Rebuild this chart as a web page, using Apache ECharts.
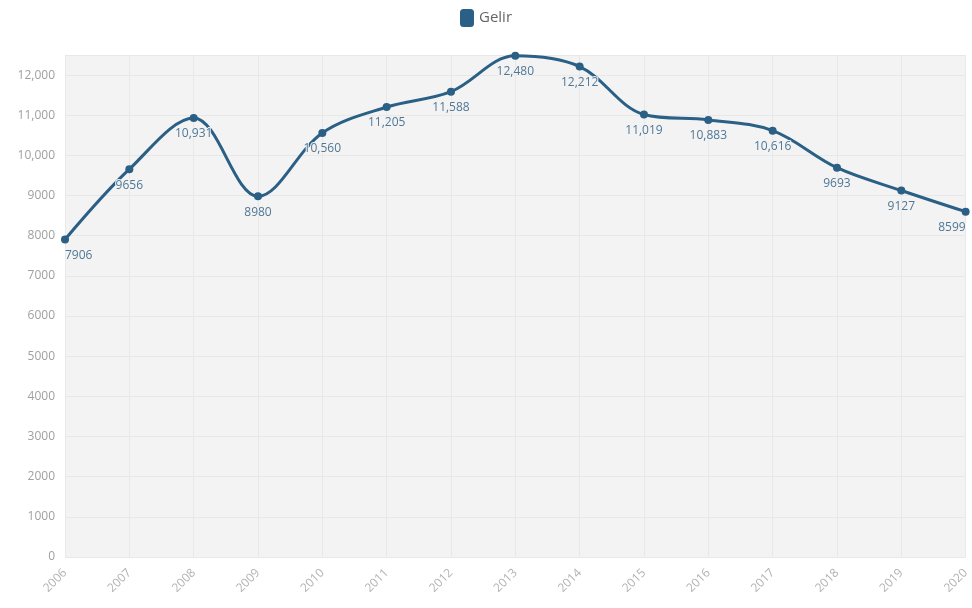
<!DOCTYPE html>
<html><head><meta charset="utf-8">
<script src="https://cdn.jsdelivr.net/npm/echarts@6/dist/echarts.min.js"></script>
<style>html,body{margin:0;padding:0;background:#fff}#c{width:972px;height:608px}</style>
</head><body><div id="c"></div>
<script>
const years = ['2006','2007','2008','2009','2010','2011','2012','2013','2014','2015','2016','2017','2018','2019','2020'];
const gelir = [7906, 9656, 10931, 8980, 10560, 11205, 11588, 12480, 12212, 11019, 10883, 10616, 9693, 9127, 8599];
const fmt = v => v >= 10000 ? v.toLocaleString('en-US') : String(v);
const chart = echarts.init(document.getElementById('c'));
const data = gelir.map((v, i) => {
  const d = {value: v};
  if (i === 0) d.label = {align: 'left', offset: [0, 0]};
  if (i === gelir.length - 1) d.label = {align: 'right', offset: [0, 0]};
  return d;
});
chart.setOption({
  animation: false,
  textStyle: {fontFamily: 'Open Sans'},
  legend: {top: 4, left: 'center', itemWidth: 14, itemHeight: 18, icon: 'roundRect',
    textStyle: {color: '#666', fontSize: 15, fontFamily: 'Open Sans'}, data: ['Gelir']},
  grid: {left: 65, right: 5, top: 55, bottom: 51, show: true, backgroundColor: '#f3f3f3', borderWidth: 0},
  xAxis: {type: 'category', data: years, boundaryGap: false,
    axisLine: {show: false}, axisTick: {show: false},
    splitLine: {show: true, lineStyle: {color: '#e8e8e8'}},
    axisLabel: {rotate: 45, color: '#b3b3b3', fontSize: 12, margin: 14}},
  yAxis: {type: 'value', min: 0, max: 12500, interval: 1000,
    axisLine: {show: false}, axisTick: {show: false},
    splitLine: {lineStyle: {color: '#e8e8e8'}},
    axisLabel: {color: '#a0a0a0', fontSize: 12, showMaxLabel: false, formatter: fmt, margin: 10}},
  series: [{name: 'Gelir', type: 'line', smooth: 0.35, data: data,
    color: '#2a5f86', symbol: 'circle', symbolSize: 8,
    lineStyle: {width: 3, color: '#2a5f86'},
    label: {show: true, position: 'bottom', distance: 6, color: '#4f7795', fontSize: 12,
      textBorderColor: '#f3f3f3', textBorderWidth: 2,
      formatter: p => fmt(p.value)}}]
});
</script></body></html>
